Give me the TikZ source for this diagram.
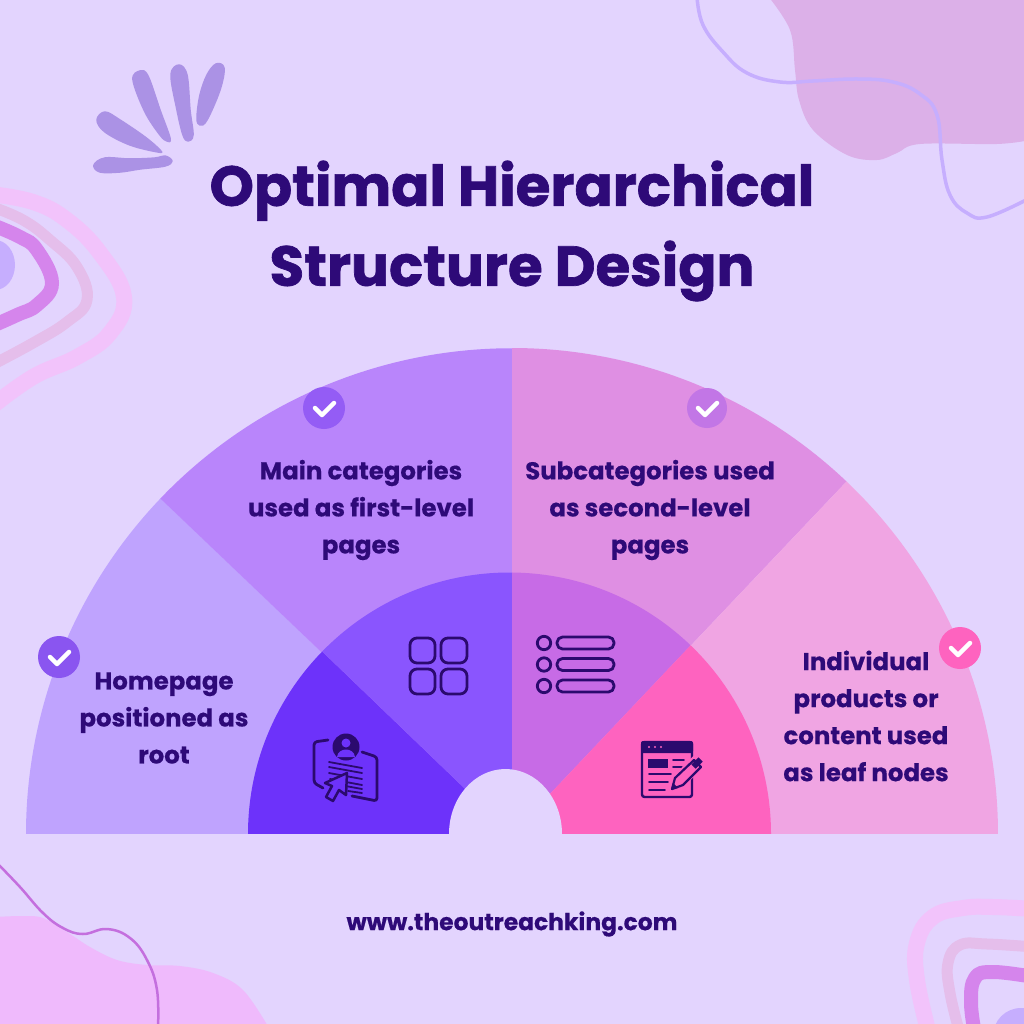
\documentclass[tikz,border=0pt]{standalone}
\usepackage{fontspec}
\setmainfont{Poppins}[BoldFont={Poppins Bold}]
\newfontfamily\titlefont{Poppins Bold}[FakeBold=1.2]
\newfontfamily\bodyfont{Poppins Bold}[FakeBold=0.5]
\definecolor{bgc}{HTML}{E3D4FE}
\definecolor{ink}{HTML}{2E0A78}
\definecolor{icn}{HTML}{2B0A6E}
\definecolor{outera}{HTML}{BFA3FE}
\definecolor{outerb}{HTML}{B985FB}
\definecolor{outerc}{HTML}{DF8FE3}
\definecolor{outerd}{HTML}{F0A5E3}
\definecolor{innera}{HTML}{6D32FA}
\definecolor{innerb}{HTML}{8A55FE}
\definecolor{innerc}{HTML}{C76BE6}
\definecolor{innerd}{HTML}{FE63BF}
\definecolor{ringa}{HTML}{F2C3FB}
\definecolor{ringb}{HTML}{E5BEEB}
\definecolor{ringc}{HTML}{D585EC}
\definecolor{disc}{HTML}{C6AEFE}
\definecolor{splash}{HTML}{AB92E5}
\definecolor{blobtr}{HTML}{DCB0E8}
\definecolor{blobbl}{HTML}{EFBAFC}
\definecolor{curvebl}{HTML}{C46FDE}
\definecolor{badgea}{HTML}{945CF5}
\definecolor{badgeb}{HTML}{C276E6}
\definecolor{badgec}{HTML}{8A55F0}
\tikzset{
  ringone/.style={draw=ringa,line width=16pt,smooth,tension=0.7},
  ringtwo/.style={draw=ringb,line width=11pt,smooth,tension=0.7},
  ringthree/.style={draw=ringc,line width=14pt,smooth,tension=0.7},
  bodytext/.style={font=\bodyfont\fontsize{24.4}{37}\selectfont,text=ink,align=center,inner sep=0pt},
  titletext/.style={font=\titlefont\fontsize{56.3}{80}\selectfont,text=ink,align=center,inner sep=0pt},
  splashblob/.style={fill=splash,draw=splash,line width=1.5pt,line join=round},
  checkmark/.style={draw=white,line width=4.5pt,line cap=round,line join=round},
  iconline/.style={draw=icn,line width=2.8pt,line cap=round,line join=round},
  thinline/.style={draw=icn,line width=1.8pt,line cap=round,line join=round}
}
\begin{document}
\begin{tikzpicture}[x=1pt,y=-1pt]
\useasboundingbox (0,0) rectangle (1024,1024);
\fill[bgc] (0,0) rectangle (1024,1024);
\begin{scope}
\clip (0,0) rectangle (1024,1024);
% top right blob and curve
\fill[blobtr]
  plot[smooth,tension=0.6] coordinates {(768,-4)(790,30)(795,70)(799,100)(813,130)(847,155)(877,160)(897,153)(920,144)(997,144)(1030,140)}
  -- (1030,-4) -- cycle;
\draw[draw=disc,line width=3.5pt] plot[smooth,tension=0.7] coordinates {(697,-3)(703,25)(723,52)(747,73)(780,82)(813,81)(857,79)(893,82)(920,94)(937,115)(942,160)(950,195)(967,213)(987,217)(1028,199)};
% left rings
\draw[ringone] plot coordinates {(-10,194)(33,202)(67,220)(100,253)(124,297)(110,333)(77,357)(33,377)(-10,408)};
\draw[ringtwo] plot coordinates {(-10,206)(23,220)(50,240)(77,267)(87,300)(67,322)(33,343)(-10,366)};
\draw[ringthree] plot coordinates {(-10,224)(20,237)(37,250)(52,283)(37,305)(17,315)(-10,327)};
\fill[disc] (-5,265) ellipse[x radius=20,y radius=25];
% splash
\path[splashblob] plot[smooth cycle,tension=0.6] coordinates {(133,80)(140,71)(148,76)(160,110)(170,138)(167,141)(160,135)(145,112)};
\path[splashblob] plot[smooth cycle,tension=0.6] coordinates {(171,75)(179,65)(187,75)(190,110)(193,135)(188,141)(183,135)(177,110)};
\path[splashblob] plot[smooth cycle,tension=0.6] coordinates {(207,75)(216,64)(224,68)(220,90)(207,120)(200,125)(197,118)(200,95)};
\path[splashblob] plot[smooth cycle,tension=0.6] coordinates {(97,120)(105,112)(120,120)(145,137)(160,150)(158,152)(130,145)(105,132)};
\path[splashblob] plot[smooth cycle,tension=0.6] coordinates {(94,165)(105,158)(130,159)(155,158)(165,156)(172,161)(165,166)(140,169)(120,172)(100,172)};
% bottom left
\fill[blobbl] plot[smooth,tension=0.6] coordinates {(-5,917)(23,916)(43,918)(67,932)(90,947)(117,960)(147,965)(180,966)(213,973)(243,990)(269,1028)} -- (-5,1028) -- cycle;
\draw[draw=curvebl,line width=2.5pt] plot[smooth,tension=0.7] coordinates {(-3,863)(20,887)(43,913)(63,928)(83,934)(107,929)(130,938)(147,960)(157,990)(158,1028)};
% bottom right rings
\draw[ringone] plot coordinates {(1034,909)(993,907)(963,908)(933,917)(917,943)(917,980)(929,1034)};
\draw[ringtwo] plot coordinates {(1034,947)(987,944)(960,945)(948,963)(950,993)(960,1034)};
\draw[ringthree] plot coordinates {(1034,977)(993,972)(975,978)(971,1003)(975,1034)};
\fill[disc] (1021,1036) circle[radius=28];
\end{scope}
% outer fan
\begin{scope}
\clip (0,0) rectangle (1024,833.5);
\fill[outera] (512,834) -- (26,834) arc[start angle=180,end angle=223.7,radius=486] -- cycle;
\fill[outerb] (512,834) -- (160.4,498.5) arc[start angle=223.7,end angle=270,radius=486] -- cycle;
\fill[outerc] (512,834) -- (512,348) arc[start angle=270,end angle=313.5,radius=486] -- cycle;
\fill[outerd] (512,834) -- (846.5,481.5) arc[start angle=313.5,end angle=360,radius=486] -- cycle;
% inner fan
\begin{scope}
\clip (509.5,834) circle[radius=261.5];
\fill[innera] (512,834) -- (200,834) -- (200,534) -- cycle;
\fill[innerb] (512,834) -- (200,534) -- (512,534) -- cycle;
\fill[innerc] (512,834) -- (512,534) -- (796,534) -- cycle;
\fill[innerd] (512,834) -- (796,534) -- (796,834) -- cycle;
\end{scope}
\fill[bgc] (505.5,834) ellipse[x radius=56.5,y radius=65];
\end{scope}
% check badges
\fill[badgea] (324,408) circle[radius=21];
\draw[checkmark] (315,408) -- (322,415) -- (334,403);
\fill[badgeb] (707,408) circle[radius=20];
\draw[checkmark] (698,408) -- (705,415) -- (717,403);
\fill[badgec] (59,657) circle[radius=21];
\draw[checkmark] (50,657) -- (57,664) -- (69,652);
\fill[innerd] (960,648) circle[radius=21];
\draw[checkmark] (951,648) -- (958,655) -- (970,643);
% titles
\node[titletext] (title) at (512,231) {Optimal Hierarchical\\Structure Design};
\node[bodytext] (homepage) at (164,718) {Homepage\\positioned as\\root};
\node[bodytext] (main) at (361,510) {Main categories\\used as first-level\\pages};
\node[bodytext] (subcat) at (650,510) {Subcategories used\\as second-level\\pages};
\node[bodytext] (leaf) at (866,716) {Individual\\products or\\content used\\as leaf nodes};
\node[font=\bodyfont\fontsize{23.4}{28}\selectfont,text=ink,inner sep=0pt] (url) at (512,924) {www.theoutreachking.com};
% grid icon
\draw[iconline,rounded corners=7pt] (410,638) rectangle (435,663);
\draw[iconline,rounded corners=7pt] (441,638) rectangle (467,663);
\draw[iconline,rounded corners=7pt] (410,669) rectangle (435,694);
\draw[iconline,rounded corners=7pt] (441,669) rectangle (467,694);
% list icon
\foreach \yy in {643,664.5,686}{
  \draw[iconline] (544,\yy) circle[radius=6.7];
  \draw[iconline,rounded corners=5.5pt] (557,\yy-6) rectangle (614,\yy+6);
}
% person card icon
\draw[iconline,rounded corners=3pt] (328,740) -- (314,742) -- (314,783) -- (323,788);
\draw[iconline,rounded corners=3pt] (362,752) -- (377,757) -- (377,801) -- (352,796);
\fill[icn] (346,747) circle[radius=13.5];
\fill[innera] (346,743) circle[radius=4.5];
\fill[innera] (337,757) .. controls (338,747) and (354,747) .. (355,757) -- cycle;
\draw[thinline] (329,762) -- (362,768);
\draw[thinline] (329,767) -- (362,773);
\draw[thinline] (329,773) -- (362,779);
\draw[thinline] (330,779) -- (362,785);
\draw[thinline] (340,785) -- (362,789);
\draw[thinline] (348,791) -- (362,793);
\fill[innera,draw=icn,line width=2.5pt,line join=round] (347,773) -- (346,795) -- (339,790) -- (333,801) -- (326,797) -- (332,786) -- (325,783) -- cycle;
% page with pencil icon
\draw[iconline,line width=2.4pt,rounded corners=2.5pt] (642,742) rectangle (692,797);
\fill[icn,rounded corners=2pt] (641,741) rectangle (693,753);
\fill[innerd] (649,747) circle[radius=1.2];
\fill[innerd] (655,747) circle[radius=1.2];
\fill[innerd] (661,747) circle[radius=1.2];
\fill[icn] (648,759) rectangle (668,768);
\draw[thinline] (673,760) -- (684,760);
\draw[thinline] (673,767) -- (682,767);
\draw[thinline] (649,774) -- (671,774);
\draw[thinline] (649,782) -- (668,782);
\draw[thinline] (649,790) -- (665,790);
\fill[innerd,draw=innerd,line width=5pt,line join=round] (671,790) -- (675,778) -- (695,758) -- (702,765) -- (682,785) -- cycle;
\draw[iconline,line width=2.2pt,fill=innerd] (672,789) -- (675,778) -- (694,760) -- (701,767) -- (683,785) -- cycle;
\fill[icn] (671,790) -- (673,783) -- (678,788) -- cycle;
\fill[icn,rotate around={45:(697,763)}] (692,760) rectangle (702,766);
\end{tikzpicture}
\end{document}
